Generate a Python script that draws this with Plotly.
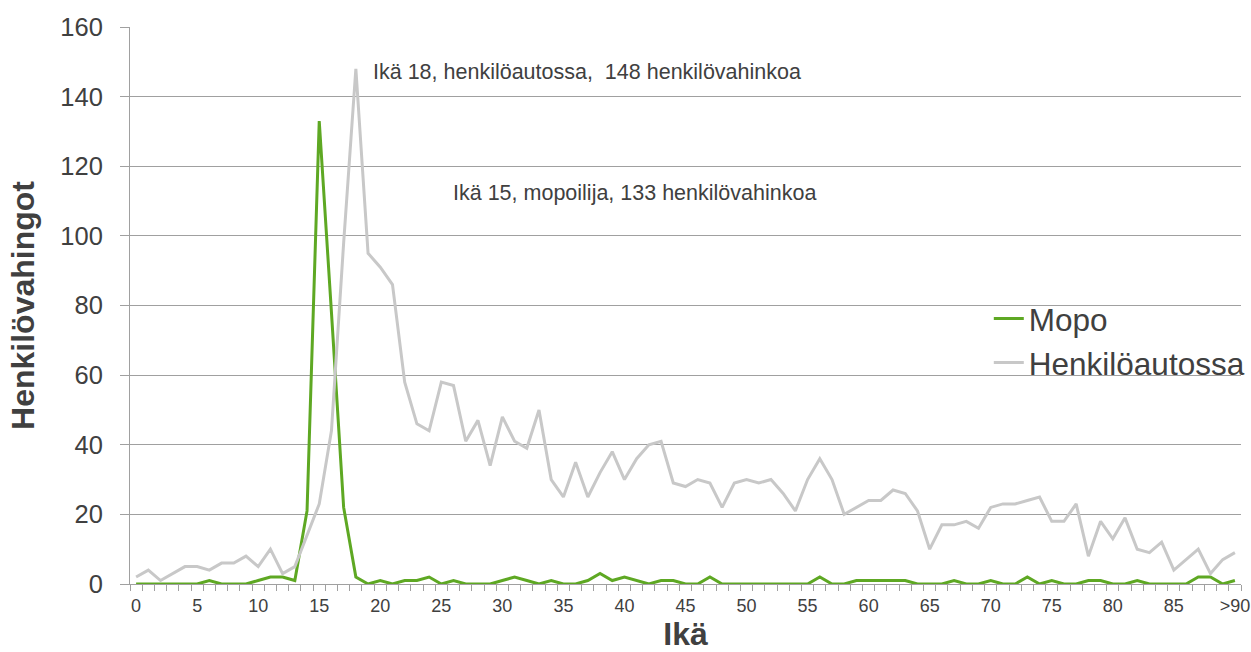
import plotly.graph_objects as go

ages = [str(i) for i in range(90)] + [">90"]

mopo = [0, 0, 0, 0, 0, 0, 1, 0, 0, 0,
        1, 2, 2, 1, 21, 133, 78, 22, 2, 0,
        1, 0, 1, 1, 2, 0, 1, 0, 0, 0,
        1, 2, 1, 0, 1, 0, 0, 1, 3, 1,
        2, 1, 0, 1, 1, 0, 0, 2, 0, 0,
        0, 0, 0, 0, 0, 0, 2, 0, 0, 1,
        1, 1, 1, 1, 0, 0, 0, 1, 0, 0,
        1, 0, 0, 2, 0, 1, 0, 0, 1, 1,
        0, 0, 1, 0, 0, 0, 0, 2, 2, 0,
        1]

henkiloauto = [2, 4, 1, 3, 5, 5, 4, 6, 6, 8,
               5, 10, 3, 5, 14, 23, 44, 98, 148, 95,
               91, 86, 58, 46, 44, 58, 57, 41, 47, 34,
               48, 41, 39, 50, 30, 25, 35, 25, 32, 38,
               30, 36, 40, 41, 29, 28, 30, 29, 22, 29,
               30, 29, 30, 26, 21, 30, 36, 30, 20, 22,
               24, 24, 27, 26, 21, 10, 17, 17, 18, 16,
               22, 23, 23, 24, 25, 18, 18, 23, 8, 18,
               13, 19, 10, 9, 12, 4, 7, 10, 3, 7,
               9]

y_ticks = [0, 20, 40, 60, 80, 100, 120, 140, 160]
note_auto = "Ikä 18, henkilöautossa,  148 henkilövahinkoa"
note_mopo = "Ikä 15, mopoilija, 133 henkilövahinkoa"

xpos = list(range(len(ages)))
label_idx = [i for i in xpos if i % 5 == 0]

FONT = "Liberation Sans, Arial, sans-serif"
TXT = "#404040"
GRID = "#a0a0a0"

fig = go.Figure()
fig.add_trace(go.Scatter(x=xpos, y=mopo, mode="lines", name="Mopo",
                         line=dict(color="#5ea823", width=3)))
fig.add_trace(go.Scatter(x=xpos, y=henkiloauto, mode="lines", name="Henkilöautossa",
                         line=dict(color="#c8c8c8", width=3)))

fig.add_annotation(x=19.2, y=147, text=note_auto, showarrow=False, xanchor="left",
                   yanchor="middle", font=dict(size=21.5, color=TXT, family=FONT))
fig.add_annotation(x=25.8, y=112.4, text=note_mopo, showarrow=False, xanchor="left",
                   yanchor="middle", font=dict(size=21.5, color=TXT, family=FONT))

fig.update_layout(
    width=1251, height=652,
    margin=dict(l=130, r=10, t=27, b=68, autoexpand=False),
    paper_bgcolor="white", plot_bgcolor="white",
    font=dict(family=FONT, color=TXT),
    legend=dict(x=0.773, y=0.437, xanchor="left", yanchor="middle",
                bgcolor="rgba(0,0,0,0)", font=dict(size=31.5, color=TXT, family=FONT),
                itemwidth=30, tracegroupgap=0),
    showlegend=True,
)
fig.update_xaxes(
    range=[-0.5, len(ages) - 0.5], automargin=False,
    tickmode="array", tickvals=label_idx, ticktext=[ages[i] for i in label_idx],
    ticks="", showgrid=False, zeroline=False,
    showline=True, linecolor=GRID, linewidth=1,
    tickfont=dict(size=18, color=TXT, family=FONT), ticklabelstandoff=5,
    minor=dict(tickmode="linear", tick0=0.5, dtick=1, ticks="outside",
               ticklen=6, tickcolor=GRID, showgrid=False),
    title=dict(text="<b>Ikä</b>", font=dict(size=32, color=TXT, family=FONT), standoff=4),
)
fig.update_yaxes(
    range=[0, 160], tickmode="array", tickvals=y_ticks, automargin=False,
    ticks="outside", ticklen=9, tickcolor=GRID,
    showgrid=True, gridcolor=GRID, gridwidth=1, zeroline=False,
    showline=True, linecolor=GRID, linewidth=1,
    tickfont=dict(size=25.5, color=TXT, family=FONT), ticklabelstandoff=12,
    title=dict(text="<b>Henkilövahingot</b>", font=dict(size=32, color=TXT, family=FONT), standoff=16),
)

fig.write_html(
    "out.html",
    config={"displayModeBar": False},
    post_script="document.body.style.margin='0';document.body.style.overflow='hidden';",
)
